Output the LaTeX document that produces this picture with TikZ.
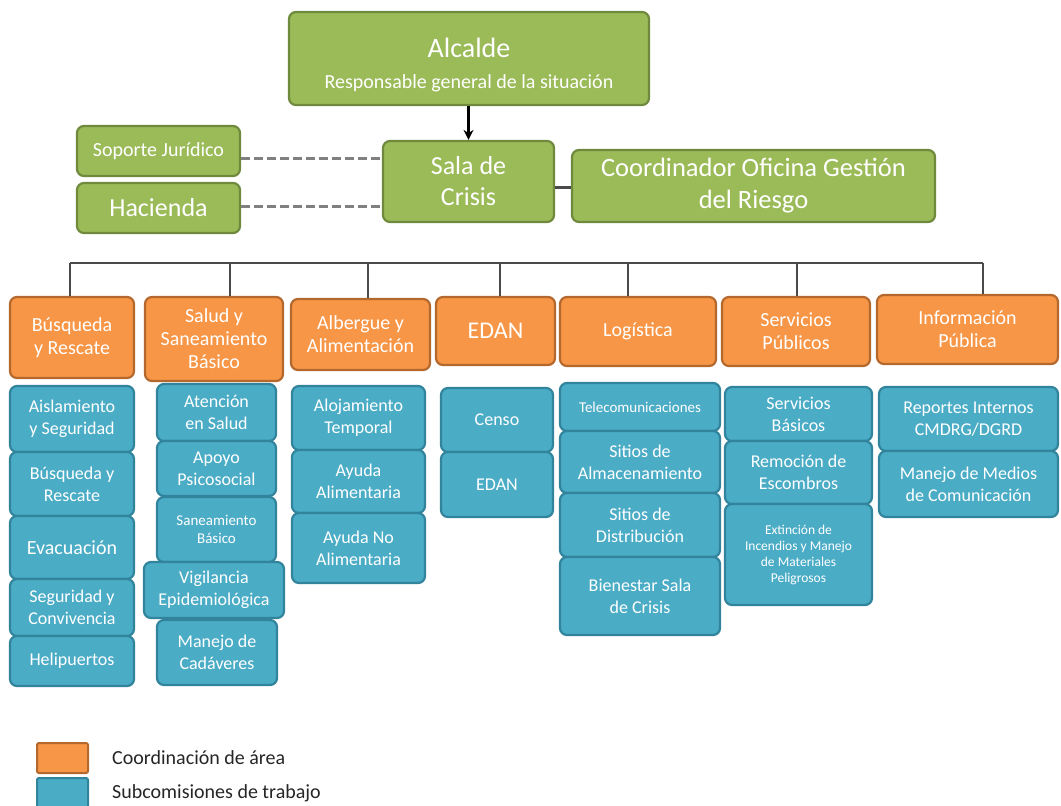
\documentclass[tikz,border=0pt]{standalone}
\usepackage{fontspec}
\setmainfont{Carlito}
\usetikzlibrary{arrows.meta}
\definecolor{gfill}{HTML}{9BBB59}
\definecolor{gline}{HTML}{6F8A3C}
\definecolor{ofill}{HTML}{F79646}
\definecolor{oline}{HTML}{B5682E}
\definecolor{bfill}{HTML}{4BACC6}
\definecolor{bline}{HTML}{31849B}
\definecolor{busc}{HTML}{4A4A4A}
\definecolor{dashc}{HTML}{808080}
\definecolor{legtxt}{HTML}{262626}
\tikzset{
  base/.style={rounded corners=7pt, line width=2.2pt, text=white, align=center, inner sep=0pt},
  gbox/.style={base, fill=gfill, draw=gline},
  obox/.style={base, fill=ofill, draw=oline, font=\fontsize{20}{23}\selectfont},
  bbox/.style={base, fill=bfill, draw=bline, font=\fontsize{18}{22}\selectfont},
  smallb/.style={font=\fontsize{15}{18}\selectfont},
  bus/.style={draw=busc, line width=1.6pt},
  dashline/.style={draw=dashc, line width=3pt, dash pattern=on 9pt off 4pt},
  joinline/.style={draw=busc, line width=3pt},
  arr/.style={draw=black, line width=2.4pt, -{Stealth[length=10pt,width=10pt]}},
  legbox/.style={rounded corners=2pt, line width=2pt, inner sep=0pt},
  legtext/.style={text=legtxt, anchor=west, font=\fontsize{20}{24}\selectfont, inner sep=0pt}
}
% #1 style, #2 name, #3 x1, #4 y1, #5 x2, #6 y2, #7 text
\newcommand\mkbox[7]{%
  \node[#1, minimum width={#5-#3}, minimum height={#6-#4}] (#2) at ({(#3+#5)/2},{(#4+#6)/2}) {#7};}
\begin{document}
\begin{tikzpicture}[x=1pt,y=-1pt]
\useasboundingbox (0,0) rectangle (1061,806);
\fill[white] (0,0) rectangle (1061,806);

% top level
\mkbox{gbox, font=\fontsize{20}{31}\selectfont}{alc}{289}{12}{649}{105}{{\fontsize{28}{31}\selectfont\rule{0pt}{32pt}Alcalde}\\Responsable general de la situación}
\mkbox{gbox, font=\fontsize{20}{24}\selectfont}{sop}{77}{126}{240}{176}{Soporte Jurídico}
\mkbox{gbox, font=\fontsize{26}{30}\selectfont}{hac}{77}{183}{240}{233}{Hacienda}
\mkbox{gbox, font=\fontsize{26}{31}\selectfont}{sala}{383}{141}{554}{222}{Sala de\\Crisis}
\mkbox{gbox, font=\fontsize{26.5}{32}\selectfont}{coord}{572}{150}{935}{222}{Coordinador Oficina Gestión\\del Riesgo}

\draw[arr] (alc.south -| sala.north) -- (sala.north);
\draw[dashline] (sop.east |- 0,158) -- (sala.west |- 0,158);
\draw[dashline] (hac.east |- 0,206) -- (sala.west |- 0,206);
\draw[joinline] (sala.east |- 0,187) -- (coord.west |- 0,187);

% area coordination
\mkbox{obox}{o1}{10}{297}{134}{378}{Búsqueda\\y Rescate}
\mkbox{obox}{o2}{145}{297}{283}{381}{Salud y\\Saneamiento\\Básico}
\mkbox{obox}{o3}{291}{299}{430}{370}{Albergue y\\Alimentación}
\mkbox{obox, font=\fontsize{24}{28}\selectfont}{o4}{436}{297}{555}{365}{EDAN}
\mkbox{obox}{o5}{560}{297}{716}{366}{Logística}
\mkbox{obox}{o6}{722}{297}{870}{366}{Servicios\\Públicos}
\mkbox{obox}{o7}{877}{295}{1058}{364}{Información\\Pública}

% bus
\coordinate (bl) at (70,263);
\coordinate (br) at (983,263);
\draw[bus] (bl) -- (br);
\foreach \xx/\nn in {70/o1,230/o2,368/o3,500/o4,628/o5,797/o6,983/o7}{
  \coordinate (t\nn) at (\xx,263);
  \draw[bus] (t\nn) -- (t\nn |- \nn.north);
}

% column 1
\mkbox{bbox}{b11}{10}{386}{134}{452}{Aislamiento\\y Seguridad}
\mkbox{bbox}{b12}{10}{452}{134}{516}{Búsqueda y\\Rescate}
\mkbox{bbox, font=\fontsize{20}{24}\selectfont}{b13}{10}{516}{134}{579}{Evacuación}
\mkbox{bbox}{b14}{10}{579}{134}{636}{Seguridad y\\Convivencia}
\mkbox{bbox}{b15}{10}{636}{134}{686}{Helipuertos}
% column 2
\mkbox{bbox}{b21}{157}{384}{276}{441}{Atención\\en Salud}
\mkbox{bbox}{b22}{157}{441}{276}{496}{Apoyo\\Psicosocial}
\mkbox{bbox, smallb}{b23}{157}{497}{276}{562}{Saneamiento\\Básico}
\mkbox{bbox}{b24}{144}{562}{284}{618}{Vigilancia\\Epidemiológica}
\mkbox{bbox}{b25}{157}{620}{277}{685}{Manejo de\\Cadáveres}
% column 3
\mkbox{bbox}{b31}{292}{386}{425}{450}{Alojamiento\\Temporal}
\mkbox{bbox}{b32}{292}{450}{425}{513}{Ayuda\\Alimentaria}
\mkbox{bbox}{b33}{292}{513}{425}{583}{Ayuda No\\Alimentaria}
% column 4
\mkbox{bbox}{b41}{441}{388}{553}{452}{Censo}
\mkbox{bbox}{b42}{441}{452}{553}{517}{EDAN}
% column 5
\mkbox{bbox, smallb}{b51}{560}{383}{720}{431}{Telecomunicaciones}
\mkbox{bbox}{b52}{560}{431}{720}{493}{Sitios de\\Almacenamiento}
\mkbox{bbox}{b53}{560}{493}{720}{557}{Sitios de\\Distribución}
\mkbox{bbox}{b54}{560}{557}{720}{635}{Bienestar Sala\\de Crisis}
% column 6
\mkbox{bbox}{b61}{725}{387}{872}{441}{Servicios\\Básicos}
\mkbox{bbox}{b62}{725}{441}{872}{504}{Remoción de\\Escombros}
\mkbox{bbox, font=\fontsize{13.5}{16}\selectfont}{b63}{725}{504}{872}{605}{Extinción de\\Incendios y Manejo\\de Materiales\\Peligrosos}
% column 7
\mkbox{bbox}{b71}{879}{387}{1058}{451}{Reportes Internos\\CMDRG/DGRD}
\mkbox{bbox}{b72}{879}{451}{1058}{517}{Manejo de Medios\\de Comunicación}

% legend
\mkbox{legbox, fill=ofill, draw=oline}{lg1}{37}{743}{88}{773}{}
\mkbox{legbox, fill=bfill, draw=bline}{lg2}{37}{778}{88}{812}{}
\node[legtext] (lt1) at (112,758) {Coordinación de área};
\node[legtext] (lt2) at (112,793) {Subcomisiones de trabajo};
\end{tikzpicture}
\end{document}
